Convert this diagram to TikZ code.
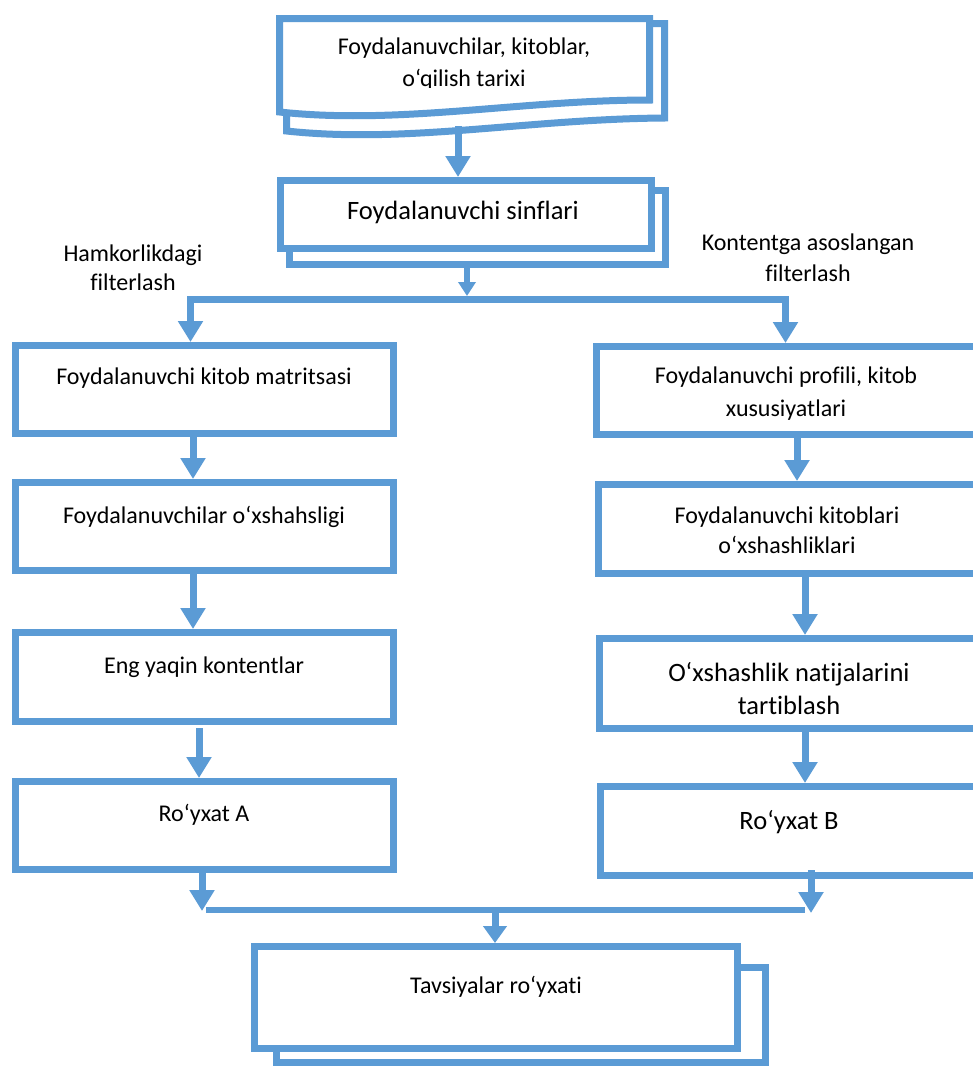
\documentclass[tikz,border=0pt]{standalone}
\usepackage{fontspec}
\setmainfont{Carlito}[Ligatures=NoCommon]
\usetikzlibrary{arrows.meta}
\definecolor{bl}{HTML}{5B9BD5}
\begin{document}
\begin{tikzpicture}[x=1pt,y=-1pt,
  box/.style={draw=bl, line width=7pt, fill=white, inner sep=0pt, rectangle},
  lin/.style={draw=bl, line width=7pt},
  thin/.style={draw=bl, line width=6pt},
  arr/.style={draw=bl, line width=7pt, -{Triangle[length=21pt,width=24pt]}},
  arrs/.style={draw=bl, line width=6pt, -{Triangle[length=14pt,width=17pt]}},
  txt/.style={font=\fontsize{24}{32}\selectfont, align=center, inner sep=0pt, text=black},
  big/.style={font=\fontsize{26.5}{33}\selectfont, align=center, inner sep=0pt, text=black}]
\useasboundingbox (0,0) rectangle (973,1066);
\fill[white] (0,0) rectangle (973,1066);

% --- top document box
\filldraw[lin, fill=white] (286.5,23.5) -- (664.5,23.5) -- (664.5,118)
  .. controls (527,119) and (407,144) .. (286.5,131) -- cycle;
\filldraw[lin, fill=white] (279.5,112) .. controls (400,125) and (520,100) .. (649.5,100)
  -- (649.5,18.5) -- (279.5,18.5) -- cycle;
\begin{scope}
  \clip (279.5,18.5) rectangle (649.5,87.5);
  \node[txt] (B1) at (464,64) {Foydalanuvchilar, kitoblar,\\o‘qilish tarixi};
\end{scope}
\coordinate (B1s) at (458,126);

% --- second box (stacked)
\node[box, minimum width=376pt, minimum height=74pt] (B2b) at (477.5,227.5) {};
\node[box, minimum width=371pt, minimum height=68pt] (B2) at (466,214.5) {};
\node[big] (B2t) at (463,212) {Foydalanuvchi sinflari};

% labels
\node[txt, font=\fontsize{24}{29}\selectfont] (labL) at (133,267.5) {Hamkorlikdagi\\filterlash};
\node[txt, font=\fontsize{24}{31}\selectfont] (labR) at (808,257.5) {Kontentga asoslangan\\filterlash};

% --- left column
\node[box, minimum width=378pt, minimum height=88pt] (L1) at (204.5,389.5) {};
\node[txt] (L1t) at (204,378) {Foydalanuvchi kitob matritsasi};
\node[box, minimum width=378pt, minimum height=88pt] (L2) at (204.5,526.5) {};
\node[txt] (L2t) at (204,517) {Foydalanuvchilar o‘xshahsligi};
\node[box, minimum width=378pt, minimum height=89pt] (L3) at (204.5,677) {};
\node[txt] (L3t) at (204,667) {Eng yaqin kontentlar};
\node[box, minimum width=378pt, minimum height=88pt] (L4) at (204.5,825.5) {};
\node[txt] (L4t) at (204,815) {Ro‘yxat A};

% --- right column
\node[box, minimum width=390pt, minimum height=88pt] (R1) at (791.5,390.5) {};
\node[txt, font=\fontsize{24}{33}\selectfont] (R1t) at (786,393.5) {Foydalanuvchi profili, kitob\\xususiyatlari};
\node[box, minimum width=390pt, minimum height=89pt] (R2) at (793.5,529) {};
\node[txt, font=\fontsize{24}{30}\selectfont] (R2t) at (787,530) {Foydalanuvchi kitoblari\\o‘xshashliklari};
\node[box, minimum width=390pt, minimum height=90pt] (R3) at (794.5,683.5) {};
\node[big] (R3t) at (789,688.5) {O‘xshashlik natijalarini\\tartiblash};
\node[box, minimum width=390pt, minimum height=89pt] (R4) at (795.5,831) {};
\node[big] (R4t) at (789,822) {Ro‘yxat B};

% --- final stacked box
\node[box, minimum width=489pt, minimum height=95pt] (Fb) at (521,1015) {};
\node[box, minimum width=483pt, minimum height=102pt] (F) at (496,997.5) {};
\node[txt] (Ft) at (496,987) {Tavsiyalar ro‘yxati};

% --- connectors
\draw[arr] (B1s) -- (B2.north -| B1s);
\coordinate (a2) at (467,296);
\draw[arrs] (B2b.south -| a2) -- (a2);
\coordinate (bar1) at (467,299.5);
\coordinate (legL) at (190.5,0);
\coordinate (legR) at (785.5,0);
\draw[arr] (bar1) -| (L1.north -| legL);
\draw[arr] (bar1) -| (R1.north -| legR);

\coordinate (l12) at (193,0);
\draw[arr] (L1.south -| l12) -- (L2.north -| l12);
\draw[arr] (L2.south -| l12) -- (L3.north -| l12);
\coordinate (l34) at (199,0);
\draw[arr] ([yshift=-3pt]L3.south -| l34) -- (L4.north -| l34);

\coordinate (r12) at (797,0);
\draw[arr] (R1.south -| r12) -- (R2.north -| r12);
\coordinate (r23) at (805,0);
\draw[arr] (R2.south -| r23) -- (R3.north -| r23);
\draw[arr] (R3.south -| r23) -- (R4.north -| r23);

\coordinate (tipL) at (202,911);
\coordinate (tipR) at (811,913);
\draw[arr] (L4.south -| tipL) -- (tipL);
\draw[arr] ([yshift=9pt]R4.south -| tipR) -- (tipR);
\coordinate (barL) at (206,909.5);
\coordinate (barR) at (805,909.5);
\draw[thin] (barL) -- (barR);
\coordinate (bar2) at (495,909.5);
\draw[draw=bl, line width=7pt, -{Triangle[length=17pt,width=23pt]}] (bar2) -- (F.north -| bar2);
\end{tikzpicture}
\end{document}
